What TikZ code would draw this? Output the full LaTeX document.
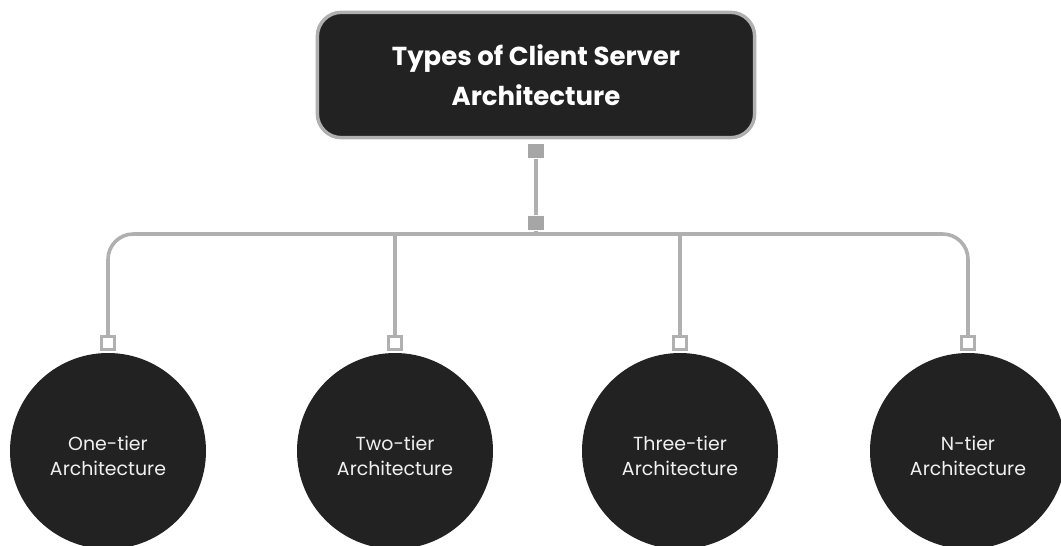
\documentclass[tikz,border=0pt]{standalone}
\usepackage{fontspec}
\setmainfont{Poppins}
\definecolor{boxfill}{HTML}{222222}
\definecolor{linegray}{HTML}{B0B0B0}
\definecolor{portgray}{HTML}{A6A6A6}
\definecolor{txtlight}{HTML}{F0F0F0}
\begin{document}
\begin{tikzpicture}[x=0.75pt,y=-0.75pt,
  titlebox/.style={draw=linegray, line width=2.6pt, fill=boxfill, rounded corners=18pt,
    minimum width=328pt, minimum height=94pt, align=center, text=white,
    font=\fontsize{19.5}{30}\selectfont\bfseries},
  tiercircle/.style={circle, fill=boxfill, minimum size=147pt, inner sep=0pt},
  tiertext/.style={align=center, text=txtlight, font=\fontsize{14.2}{18.75}\selectfont},
  portfill/.style={draw=none, fill=portgray, minimum width=12pt, minimum height=11pt, inner sep=0pt},
  portopen/.style={draw=linegray, line width=2pt, fill=white, minimum width=9.5pt, minimum height=10pt, inner sep=0pt},
  conn/.style={draw=linegray, line width=2.7pt}]
\useasboundingbox (0,0) rectangle (1061,546);
\clip (0,0) rectangle (1061,546);
\node[titlebox] (t) at (536,75) {Types of Client Server\\Architecture};
\node[portfill] (p1) at (536,151) {};
\node[portfill] (p2) at (536,223) {};
\coordinate (h) at (536,234);
\node[tiercircle] (c1) at (108,451) {};
\node[tiercircle] (c2) at (395,451) {};
\node[tiercircle] (c3) at (680,451) {};
\node[tiercircle] (c4) at (968,451) {};
\node[tiertext] (l1) at (108,456) {One-tier\\Architecture};
\node[tiertext] (l2) at (395,456) {Two-tier\\Architecture};
\node[tiertext] (l3) at (680,456) {Three-tier\\Architecture};
\node[tiertext] (l4) at (968,456) {N-tier\\Architecture};
\node[portopen] (q1) at (108,343) {};
\node[portopen] (q2) at (395,343) {};
\node[portopen] (q3) at (680,343) {};
\node[portopen] (q4) at (968,343) {};
\draw[conn] (p1.south) -- (p2.north);
\draw[conn] (p2.south) -- (h);
\draw[conn, rounded corners=19pt] (h) -| (q1.north);
\draw[conn, rounded corners=19pt] (h) -| (q4.north);
\draw[conn] (q2.north) -- (q2.north |- h);
\draw[conn] (q3.north) -- (q3.north |- h);
\end{tikzpicture}
\end{document}
